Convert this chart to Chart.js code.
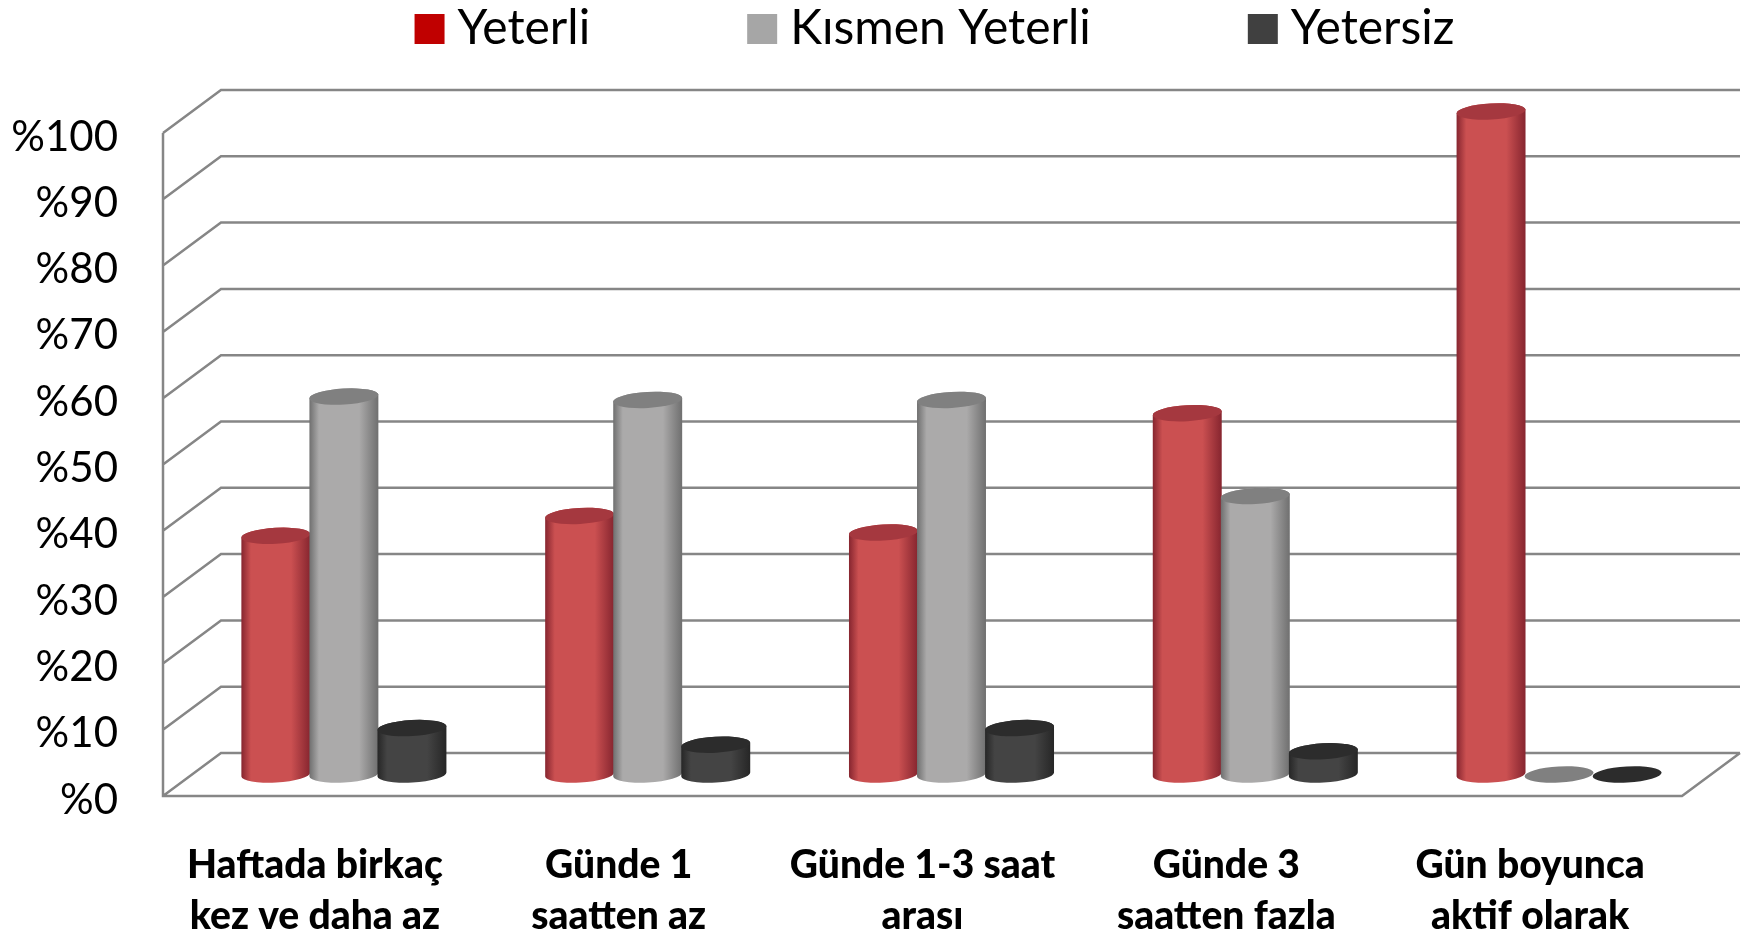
<!DOCTYPE html>
<html>
<head>
<meta charset="utf-8">
<title>Yeterlilik</title>
<script src="https://cdn.jsdelivr.net/npm/chart.js@4"></script>
<style>
html, body { margin: 0; padding: 0; background: #fff; overflow: hidden; }
canvas { display: block; }
</style>
</head>
<body>
<canvas id="chart" width="1746" height="933"></canvas>
<script>
const categories = [
    ["Haftada birkaç", "kez ve daha az"],
    ["Günde 1", "saatten az"],
    ["Günde 1-3 saat", "arası"],
    ["Günde 3", "saatten fazla"],
    ["Gün boyunca", "aktif olarak"]
];
const seriesNames = ["Yeterli", "Kısmen Yeterli", "Yetersiz"];
const yeterli = [36, 39, 36.5, 54.5, 100];
const kismen = [57, 56.5, 56.5, 42, 0];
const yetersiz = [7, 4.5, 7, 3.5, 0];
const yTickLabels = ["%0", "%10", "%20", "%30", "%40", "%50", "%60", "%70", "%80", "%90", "%100"];

const legendColors = ["#c00000", "#a6a6a6", "#404040"];
// edge, middle, lid colours of each cylinder series
const shades = [
    { edge: "#86252f", mid: "#cb5051", lid: "#a5383f" },
    { edge: "#6f6f6f", mid: "#abaaaa", lid: "#808080" },
    { edge: "#262626", mid: "#444444", lid: "#2c2c2c" }
];
const gridColor = "#868686";
const depthX = 58;
const depthY = 43;
const tilt = -0.057;
const lidRadius = 8;
const legendPad = 168;
const legendShift = 99;

function drawWalls(chart) {
    const ctx = chart.ctx;
    const y = chart.scales.y;
    const a = chart.chartArea;
    ctx.save();
    ctx.strokeStyle = gridColor;
    ctx.lineWidth = 2.5;
    ctx.lineJoin = "miter";
    ctx.beginPath();
    y.ticks.forEach(function(t) {
        const py = y.getPixelForValue(t.value);
        ctx.moveTo(a.left, py);
        ctx.lineTo(a.left + depthX, py - depthY);
        ctx.lineTo(a.right + depthX, py - depthY);
    });
    ctx.moveTo(a.left, a.top);
    ctx.lineTo(a.left, a.bottom);
    ctx.lineTo(a.right, a.bottom);
    ctx.lineTo(a.right + depthX, a.bottom - depthY);
    ctx.stroke();
    ctx.restore();
}

function drawCylinder(ctx, bar, shade) {
    const cx = bar.x + depthX / 2;
    const top = bar.y - depthY / 2;
    const base = bar.base - depthY / 2;
    const r = bar.width / 2 + 0.5;
    if (base - top > 0.5) {
        const g = ctx.createLinearGradient(cx - r, 0, cx + r, 0);
        g.addColorStop(0, shade.edge);
        g.addColorStop(0.14, shade.mid);
        g.addColorStop(0.72, shade.mid);
        g.addColorStop(1, shade.edge);
        ctx.beginPath();
        ctx.ellipse(cx, base, r, lidRadius, tilt, 0, Math.PI);
        ctx.ellipse(cx, top, r, lidRadius, tilt, Math.PI, Math.PI * 2);
        ctx.closePath();
        ctx.fillStyle = g;
        ctx.fill();
    }
    ctx.beginPath();
    ctx.ellipse(cx, top, r, lidRadius, tilt, 0, Math.PI * 2);
    ctx.fillStyle = shade.lid;
    ctx.fill();
}

const cylinders = {
    id: "cylinders",
    beforeInit(chart) {
        // the legend gap comes from labels.padding, which would also eat the plot height
        const fit = chart.legend.fit;
        chart.legend.fit = function() {
            fit.call(this);
            this.height = 0;
        };
    },
    afterLayout(chart) {
        chart.legend.top = 5 - legendPad;
        chart.legend.bottom = 70;
        chart.legend.left += legendShift;
        chart.legend.right += legendShift;
    },
    beforeDatasetsDraw(chart) {
        drawWalls(chart);
        chart.data.datasets.forEach(function(ds, i) {
            chart.getDatasetMeta(i).data.forEach(function(bar) {
                drawCylinder(chart.ctx, bar, shades[i]);
            });
        });
    },
    beforeDatasetDraw() {
        return false;
    }
};

new Chart(document.getElementById("chart"), {
    type: "bar",
    data: {
        labels: categories,
        datasets: [
            { label: seriesNames[0], data: yeterli, backgroundColor: legendColors[0] },
            { label: seriesNames[1], data: kismen, backgroundColor: legendColors[1] },
            { label: seriesNames[2], data: yetersiz, backgroundColor: legendColors[2] }
        ]
    },
    options: {
        responsive: false,
        animation: false,
        layout: { padding: { top: 133, right: 64, left: 0, bottom: 0 } },
        datasets: { bar: { categoryPercentage: 0.672, barPercentage: 1 } },
        plugins: {
            tooltip: { enabled: false },
            legend: {
                position: "top",
                labels: {
                    usePointStyle: true,
                    pointStyle: "rect",
                    boxWidth: 8,
                    boxHeight: 30,
                    padding: legendPad,
                    color: "#000",
                    font: { family: "Lato", size: 48 }
                }
            }
        },
        scales: {
            x: {
                afterFit(scale) { scale.height = 137; },
                grid: { display: false },
                border: { display: false },
                ticks: {
                    autoSkip: false,
                    maxRotation: 0,
                    minRotation: 0,
                    padding: 36,
                    color: "#000",
                    font: { family: "Lato", size: 39, weight: "900", lineHeight: 1.3 }
                }
            },
            y: {
                min: 0,
                max: 100,
                afterFit(scale) { scale.width = 163; },
                grid: { display: false },
                border: { display: false },
                ticks: {
                    stepSize: 10,
                    padding: 37,
                    labelOffset: 4,
                    color: "#000",
                    font: { family: "Lato", size: 42 },
                    callback: function(v) { return yTickLabels[v / 10]; }
                }
            }
        }
    },
    plugins: [cylinders]
});
</script>
</body>
</html>
